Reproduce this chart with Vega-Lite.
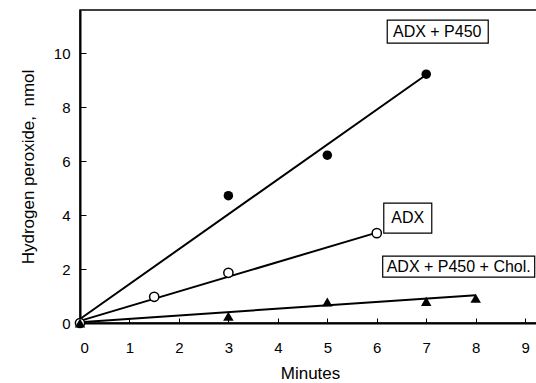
{
  "$schema": "https://vega.github.io/schema/vega-lite/v6.json",
  "autosize": "none",
  "width": 460,
  "height": 313,
  "padding": {"left": 80, "top": 10, "right": 0, "bottom": 60},
  "background": "white",
  "config": {
    "view": {"stroke": "black", "strokeWidth": 1.5},
    "font": "Liberation Sans",
    "axis": {
      "domainColor": "black", "domainWidth": 2, "tickColor": "black", "tickWidth": 1,
      "labelColor": "black", "titleColor": "black", "labelFont": "Liberation Sans", "titleFont": "Liberation Sans",
      "labelFontSize": 15, "titleFontSize": 17, "titleFontWeight": "normal", "grid": false
    }
  },
  "datasets": {
    "points": [
      {"series": "ADX + P450", "Minutes": 0, "nmol": 0},
      {"series": "ADX + P450", "Minutes": 3, "nmol": 4.72},
      {"series": "ADX + P450", "Minutes": 5, "nmol": 6.22},
      {"series": "ADX + P450", "Minutes": 7, "nmol": 9.22},
      {"series": "ADX", "Minutes": 0, "nmol": 0},
      {"series": "ADX", "Minutes": 1.5, "nmol": 0.97},
      {"series": "ADX", "Minutes": 3, "nmol": 1.86},
      {"series": "ADX", "Minutes": 6, "nmol": 3.33},
      {"series": "ADX + P450 + Chol.", "Minutes": 0, "nmol": 0},
      {"series": "ADX + P450 + Chol.", "Minutes": 3, "nmol": 0.25},
      {"series": "ADX + P450 + Chol.", "Minutes": 5, "nmol": 0.78},
      {"series": "ADX + P450 + Chol.", "Minutes": 7, "nmol": 0.8},
      {"series": "ADX + P450 + Chol.", "Minutes": 8, "nmol": 0.92}
    ],
    "fits": [
      {"series": "ADX + P450", "Minutes": 0, "nmol": 0.15},
      {"series": "ADX + P450", "Minutes": 7, "nmol": 9.2},
      {"series": "ADX", "Minutes": 0, "nmol": 0.08},
      {"series": "ADX", "Minutes": 6, "nmol": 3.35},
      {"series": "ADX + P450 + Chol.", "Minutes": 0, "nmol": 0.03},
      {"series": "ADX + P450 + Chol.", "Minutes": 8, "nmol": 1.03}
    ]
  },
  "encoding": {
    "x": {"field": "Minutes", "type": "quantitative", "scale": {"domain": [0, 9.3], "nice": false},
      "axis": {"values": [0,1,2,3,4,5,6,7,8,9], "tickSize": -5, "labelPadding": 22, "title": "Minutes", "titlePadding": 10}},
    "y": {"field": "nmol", "type": "quantitative", "scale": {"domain": [0, 11.6], "nice": false}}
  },
  "layer": [
    {
      "data": {"name": "fits"},
      "mark": {"type": "line", "color": "black", "strokeWidth": 2},
      "encoding": {
        "detail": {"field": "series"},
        "y": {"field": "nmol", "type": "quantitative", "scale": {"domain": [0, 11.6], "nice": false},
          "axis": {"values": [0,1,2,3,4,5,6,7,8,9,10,11], "labelExpr": "datum.value % 2 === 0 ? datum.label : ''",
            "tickSize": -6, "tickOpacity": {"condition": {"test": "datum.value % 2 === 1", "value": 0.5}, "value": 1},
            "labelPadding": 16, "title": "Hydrogen peroxide,\u00a0 nmol", "titlePadding": 16}}
      }
    },
    {
      "data": {"name": "points"},
      "transform": [{"filter": "datum.series === 'ADX + P450'"}],
      "mark": {"type": "point", "shape": "circle", "filled": true, "color": "black", "size": 90, "opacity": 1}
    },
    {
      "data": {"name": "points"},
      "transform": [{"filter": "datum.series === 'ADX'"}],
      "mark": {"type": "point", "shape": "circle", "filled": true, "fill": "white", "stroke": "black", "strokeWidth": 1.5, "size": 85, "opacity": 1}
    },
    {
      "data": {"name": "points"},
      "transform": [{"filter": "datum.series === 'ADX + P450 + Chol.'"}],
      "mark": {"type": "point", "shape": "triangle-up", "filled": true, "color": "black", "size": 110, "opacity": 1}
    },
    {
      "data": {"name": "points"},
      "transform": [{"filter": "datum.series === 'ADX + P450' && datum.Minutes === 7"}],
      "mark": {"type": "rect", "fill": "white", "stroke": "black", "strokeWidth": 1.2, "xOffset": -39, "x2Offset": 62, "yOffset": -54, "y2Offset": -31},
      "encoding": {"x2": {"field": "Minutes"}, "y2": {"field": "nmol"}}
    },
    {
      "data": {"name": "points"},
      "transform": [{"filter": "datum.series === 'ADX + P450' && datum.Minutes === 7"}],
      "mark": {"type": "text", "fontSize": 16, "font": "Liberation Sans", "color": "black", "dx": 11, "dy": -42, "align": "center", "baseline": "middle"},
      "encoding": {"text": {"field": "series"}}
    },
    {
      "data": {"name": "points"},
      "transform": [{"filter": "datum.series === 'ADX' && datum.Minutes === 6"}],
      "mark": {"type": "rect", "fill": "white", "stroke": "black", "strokeWidth": 1.2, "xOffset": 7, "x2Offset": 55, "yOffset": -30, "y2Offset": 0},
      "encoding": {"x2": {"field": "Minutes"}, "y2": {"field": "nmol"}}
    },
    {
      "data": {"name": "points"},
      "transform": [{"filter": "datum.series === 'ADX' && datum.Minutes === 6"}],
      "mark": {"type": "text", "fontSize": 16, "font": "Liberation Sans", "color": "black", "dx": 31, "dy": -15, "align": "center", "baseline": "middle"},
      "encoding": {"text": {"field": "series"}}
    },
    {
      "data": {"name": "points"},
      "transform": [{"filter": "datum.series === 'ADX + P450 + Chol.' && datum.Minutes === 8"}],
      "mark": {"type": "rect", "fill": "white", "stroke": "black", "strokeWidth": 1.2, "xOffset": -93, "x2Offset": 59, "yOffset": -42, "y2Offset": -21},
      "encoding": {"x2": {"field": "Minutes"}, "y2": {"field": "nmol"}}
    },
    {
      "data": {"name": "points"},
      "transform": [{"filter": "datum.series === 'ADX + P450 + Chol.' && datum.Minutes === 8"}],
      "mark": {"type": "text", "fontSize": 16, "font": "Liberation Sans", "color": "black", "dx": -17, "dy": -31, "align": "center", "baseline": "middle"},
      "encoding": {"text": {"field": "series"}}
    }
  ]
}
